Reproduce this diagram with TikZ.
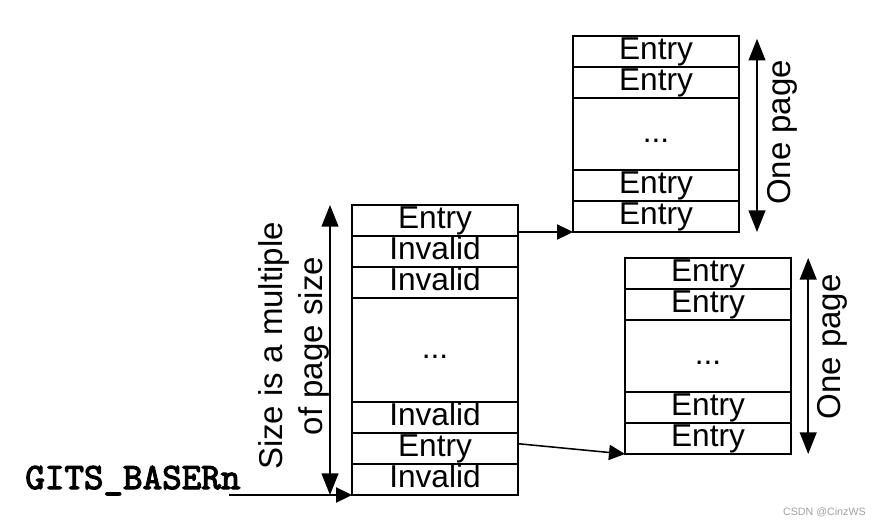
\documentclass[tikz,border=0pt]{standalone}
\usepackage{fontspec}
\setmainfont{Liberation Sans}
\newfontfamily\gitsfont{lmmono10-regular.otf}[FakeBold=3]
\usetikzlibrary{arrows.meta, positioning, calc}
\definecolor{markgray}{HTML}{A0A0A0}

\begin{document}
\begin{tikzpicture}[
    cell/.style={draw, line width=1.4pt, minimum width=4.15cm, minimum height=0.775cm, inner sep=0pt, outer sep=0pt, font=\fontsize{22.5}{24}\selectfont, text height=16pt, text depth=4.6pt},
    midcell/.style={cell, minimum height=#1},
    link/.style={line width=1.1pt, -{Triangle[length=4mm,width=3.8mm]}},
    span/.style={line width=1.1pt, {Triangle[length=5.4mm,width=4.2mm]}-{Triangle[length=5.4mm,width=4.2mm]}},
    side/.style={rotate=90, font=\fontsize{23.5}{29}\selectfont, align=center}]
          \useasboundingbox (0,0) rectangle (22.025,13.15);
          % Tabla de primer nivel
          \node[cell] (L1) at (10.875,7.6375) {Entry};
          \node[cell] (L2) at (10.875,6.8625) {Invalid};
          \node[cell] (L3) at (10.875,6.0875) {Invalid};
          \node[midcell=2.6cm] (L4) at (10.875,4.4) {...};
          \node[cell] (L5) at (10.875,2.7125) {Invalid};
          \node[cell] (L6) at (10.875,1.9375) {Entry};
          \node[cell] (L7) at (10.875,1.1625) {Invalid};
          % Página superior
          \node[cell] (T1) at (16.4,11.8625) {Entry};
          \node[cell] (T2) at (16.4,11.0875) {Entry};
          \node[midcell=1.8cm] (T3) at (16.4,9.8) {...};
          \node[cell] (T4) at (16.4,8.5125) {Entry};
          \node[cell] (T5) at (16.4,7.7375) {Entry};
          % Página inferior
          \node[cell] (B1) at (17.7,6.3125) {Entry};
          \node[cell] (B2) at (17.7,5.5375) {Entry};
          \node[midcell=1.8cm] (B3) at (17.7,4.25) {...};
          \node[cell] (B4) at (17.7,2.9625) {Entry};
          \node[cell] (B5) at (17.7,2.1875) {Entry};
          % Cotas y rótulos
          \node[side] (sizelbl) at (7.35,4.5) {Size is a multiple\\of page size};
          \node[side] (pageT) at (19.55,9.84) {One page};
          \node[side] (pageB) at (20.82,4.48) {One page};
          \draw[span] ($(L1.north west)+(-0.55,0)$) -- ($(L7.south west)+(-0.55,0)$);
          \draw[span] ($(T1.north east)+(0.45,-0.07)$) -- ($(T5.south east)+(0.45,0)$);
          \draw[span] ($(B1.north east)+(0.43,0)$) -- ($(B5.south east)+(0.43,0)$);
          % Registro base y enlaces
          \node[anchor=base west, inner sep=0pt, font=\gitsfont\fontsize{26.5}{28}\selectfont] (gits) at (0.625,0.925) {GITS\_BASERn};
          \draw[link] ($(gits.east |- L7.south west)+(-0.3,0)$) -- (L7.south west);
          \draw[link] (L1.east |- T5.south west) -- (T5.south west);
          \draw[link] ($(L6.east)+(0,0.12)$) -- (B5.south west);
          \node[font=\fontsize{7.6}{9}\selectfont, text=markgray] (mark) at (20.61,0.35) {CSDN @CinzWS};
        \end{tikzpicture}
\end{document}
